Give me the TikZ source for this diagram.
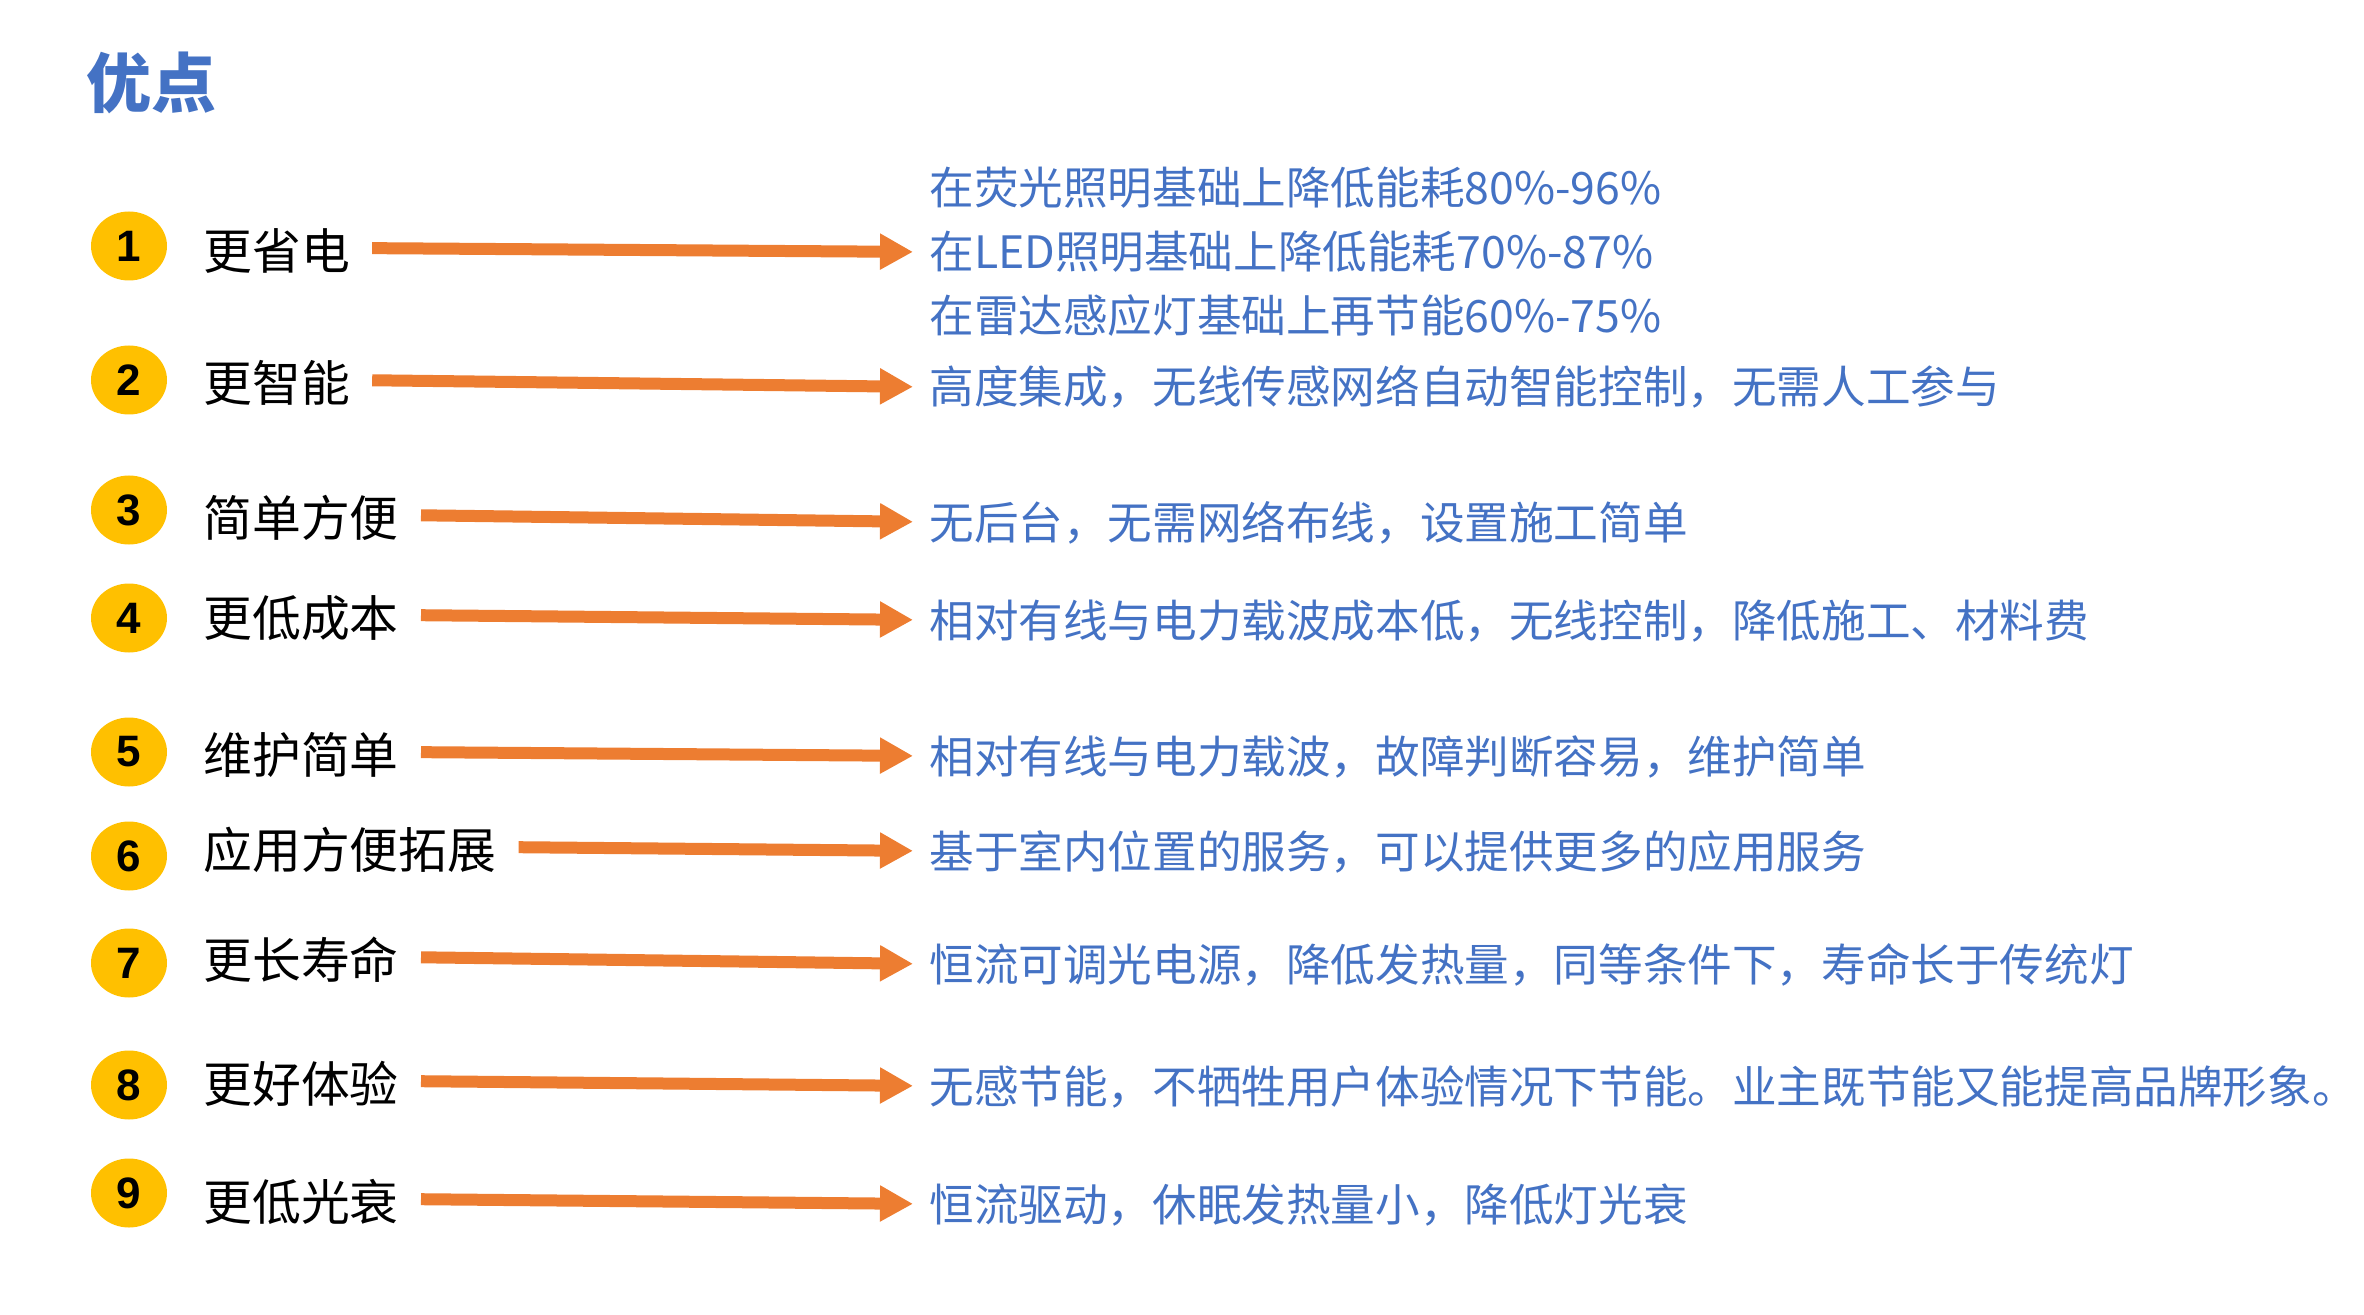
\documentclass[tikz,border=0pt]{standalone}
\usepackage{fontspec}
\setmainfont{Noto Sans CJK SC}
\newfontfamily\numfont{Liberation Sans}
\usetikzlibrary{arrows.meta,shapes.geometric}
\definecolor{ptblue}{HTML}{4472C4}
\definecolor{ptorange}{HTML}{ED7D31}
\definecolor{ptyellow}{HTML}{FFC000}

\begin{document}
\begin{tikzpicture}[x=0.5pt,y=-0.5pt,
    numdot/.style={ellipse, fill=ptyellow, minimum width=38pt, minimum height=34.5pt, inner sep=0pt, font=\numfont\bfseries\fontsize{22}{24}\selectfont},
    item/.style={anchor=west, inner sep=0pt, text height=22pt, text depth=3.4pt, font=\fontsize{24.4}{28}\selectfont},
    desc/.style={anchor=west, inner sep=0pt, text height=20pt, text depth=3pt, text=ptblue, font=\fontsize{22.3}{27}\selectfont},
    arr/.style={ptorange, line width=6pt, -{Triangle[length=16.5pt,width=17pt]}, shorten <=11pt, shorten >=8pt}]
    \useasboundingbox (0,0) rectangle (2364,1315);
    \node[anchor=west, inner sep=0pt, text height=29pt, text depth=4.3pt, text=ptblue, font=\bfseries\fontsize{32.5}{36}\selectfont] (title) at (86,83) {优点};
    % numbered dots
    \foreach \n/\y in {1/246,2/380,3/510,4/618,5/752,6/856,7/963,8/1085,9/1193}
        \node[numdot] (c\n) at (129,\y) {\n};
    % items
    \node[item] (l1) at (203,251) {更省电};
    \node[item] (l2) at (203,383) {更智能};
    \node[item] (l3) at (203,518) {简单方便};
    \node[item] (l4) at (203,618) {更低成本};
    \node[item] (l5) at (203,755) {维护简单};
    \node[item] (l6) at (203,850) {应用方便拓展};
    \node[item] (l7) at (203,960) {更长寿命};
    \node[item] (l8) at (203,1084) {更好体验};
    \node[item] (l9) at (203,1202) {更低光衰};
    % descriptions
    \node[desc] (t1a) at (929,188) {在荧光照明基础上降低能耗80\%-96\%};
    \node[desc] (t1b) at (929,252) {在LED照明基础上降低能耗70\%-87\%};
    \node[desc] (t1c) at (929,316) {在雷达感应灯基础上再节能60\%-75\%};
    \node[desc] (t2) at (929,387) {高度集成，无线传感网络自动智能控制，无需人工参与};
    \node[desc] (t3) at (929,522) {无后台，无需网络布线，设置施工简单};
    \node[desc] (t4) at (929,620) {相对有线与电力载波成本低，无线控制，降低施工、材料费};
    \node[desc] (t5) at (929,756) {相对有线与电力载波，故障判断容易，维护简单};
    \node[desc] (t6) at (929,851) {基于室内位置的服务，可以提供更多的应用服务};
    \node[desc] (t7) at (929,964) {恒流可调光电源，降低发热量，同等条件下，寿命长于传统灯};
    \node[desc] (t8) at (929,1086) {无感节能，不牺牲用户体验情况下节能。业主既节能又能提高品牌形象。};
    \node[desc] (t9) at (929,1204) {恒流驱动，休眠发热量小，降低灯光衰};
    % arrows
    \draw[arr] ([yshift=1.5pt]l1.east) -- (t1b.west);
    \draw[arr] ([yshift=1.5pt]l2.east) -- (t2.west);
    \draw[arr] ([yshift=1.5pt]l3.east) -- (t3.west);
    \draw[arr] ([yshift=1.5pt]l4.east) -- (t4.west);
    \draw[arr] ([yshift=1.5pt]l5.east) -- (t5.west);
    \draw[arr] ([yshift=1.5pt]l6.east) -- (t6.west);
    \draw[arr] ([yshift=1.5pt]l7.east) -- (t7.west);
    \draw[arr] ([yshift=1.5pt]l8.east) -- (t8.west);
    \draw[arr] ([yshift=1.5pt]l9.east) -- (t9.west);
\end{tikzpicture}
\end{document}
